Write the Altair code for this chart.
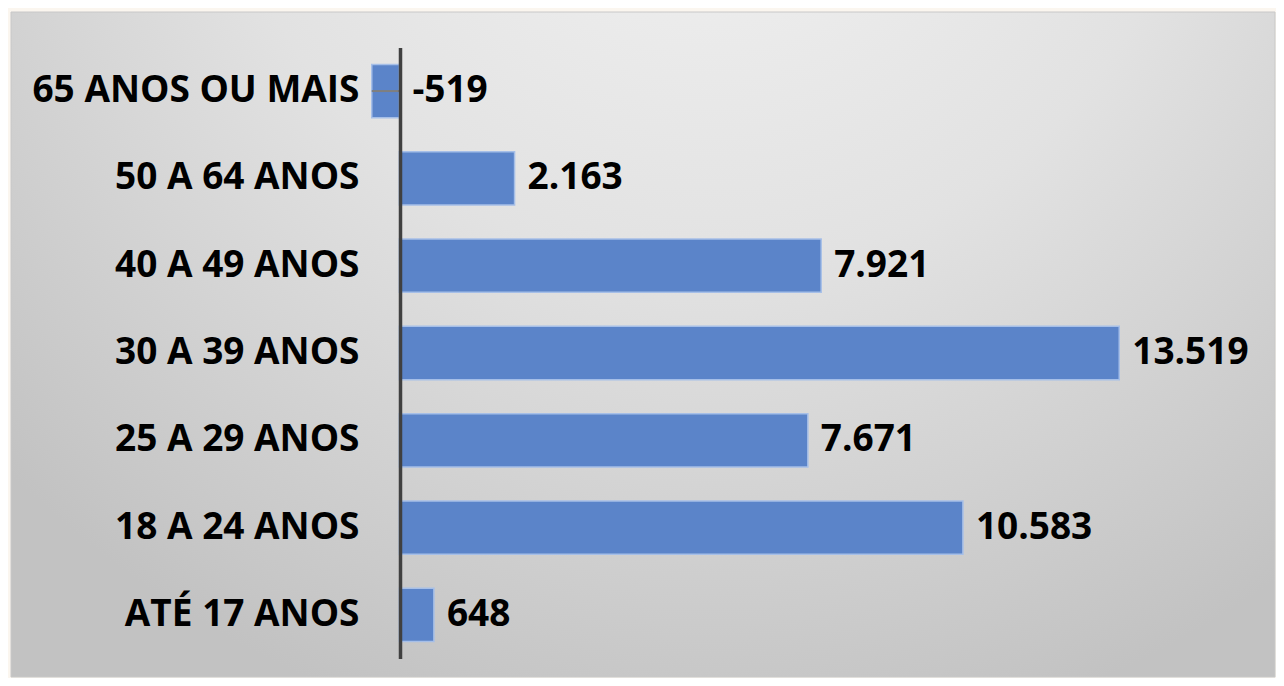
import altair as alt
import pandas as pd

categories = ["65 ANOS OU MAIS", "50 A 64 ANOS", "40 A 49 ANOS", "30 A 39 ANOS",
              "25 A 29 ANOS", "18 A 24 ANOS", "ATÉ 17 ANOS"]
values = [-519, 2163, 7921, 13519, 7671, 10583, 648]

df = pd.DataFrame({"faixa": categories, "valor": values})
df["rotulo"] = [f"{v:,}".replace(",", ".") for v in values]
df["pos"] = [max(v, 0) for v in values]

FONT = "Open Sans"
FS = 37

y_enc = alt.Y(
    "faixa:N", sort=categories, title=None,
    scale=alt.Scale(range=[35.4, 646.6], paddingInner=0.39, paddingOuter=0.195),
    axis=alt.Axis(orient="left", offset=-389, ticks=False, domainColor="#404040",
                  domainWidth=3.5, labelFontSize=FS, labelFont=FONT,
                  labelFontWeight="bold", labelColor="#000000", labelPadding=41,
                  zindex=1, labelLimit=500, grid=False),
)
x_scale = alt.Scale(domain=[-7294, 16444], nice=False, zero=False)

gradient = {
    "gradient": "radial",
    "x1": 0.55, "y1": 0.05, "r1": 0,
    "x2": 0.55, "y2": 0.05, "r2": 0.78,
    "stops": [
        {"offset": 0, "color": "#f4f4f4"},
        {"offset": 0.5, "color": "#e2e2e2"},
        {"offset": 1, "color": "#c2c2c2"},
    ],
}

panel = alt.Chart(df).transform_filter("datum.valor < 0").mark_rect(
    fill=gradient, stroke="#c8c8c8", strokeWidth=1
).encode(
    x=alt.value(0), x2=alt.value("width"),
    y=alt.value(0), y2=alt.value("height"),
)

bars = alt.Chart(df).mark_bar(color="#5b84c9", stroke="#a6bfe8", strokeWidth=1.5).encode(
    x=alt.X("valor:Q", scale=x_scale, axis=None),
    y=y_enc,
)

tick = alt.Chart(df).transform_filter("datum.valor < 0").mark_rule(
    color="#7f7f7f", strokeWidth=2
).encode(
    x=alt.X("valor:Q", scale=x_scale, axis=None),
    x2=alt.datum(0),
    y=alt.Y("faixa:N", sort=categories),
)

labels = alt.Chart(df).mark_text(
    align="left", baseline="middle", dx=13, fontSize=FS, font=FONT,
    fontWeight="bold", color="#000000"
).encode(
    x=alt.X("pos:Q", scale=x_scale, axis=None),
    y=alt.Y("faixa:N", sort=categories),
    text="rotulo:N",
)

chart = (panel + bars + tick + labels).properties(
    width=1268, height=670,
    autosize=alt.AutoSizeParams(type="fit", contains="padding"),
    padding={"left": 2, "top": 3, "right": 0, "bottom": 0},
    background="#fbf6ef",
).configure_view(stroke=None)

chart.save("out.html", embed_options={"renderer": "svg", "actions": False})
